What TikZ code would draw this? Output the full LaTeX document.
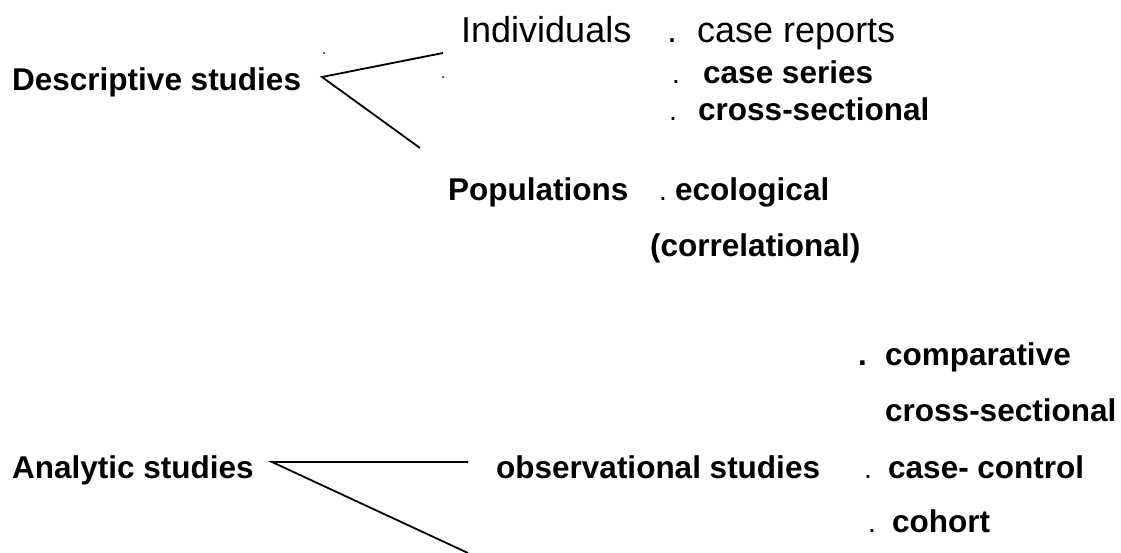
\documentclass[tikz,border=0pt]{standalone}
\usepackage{fontspec}
\setmainfont{Liberation Sans}
\usepackage{tikz}

\begin{document}
\begin{tikzpicture}[x=1pt,y=-1pt,
  bf/.style={anchor=base west,inner sep=0pt,font=\bfseries\fontsize{31.5}{38}\selectfont},
  rm/.style={anchor=base west,inner sep=0pt,font=\fontsize{36}{42}\selectfont},
  pt/.style={anchor=base west,inner sep=0pt,font=\fontsize{28}{34}\selectfont}]
\useasboundingbox (0,0) rectangle (1121,553);
% descriptive branch
\node[bf] (desc) at (12,91) {Descriptive studies};
\node[rm] (indiv) at (461,43) {Individuals};
\node[rm] (dta) at (667,43) {.};
\node[rm] (crep) at (697,43) {case reports};
\node[pt] (dtb) at (672,84) {.};
\node[bf] (cser) at (703,84) {case series};
\node[pt] (dtc) at (669,121) {.};
\node[bf] (csec) at (698,121) {cross-sectional};
\node[bf] (popu) at (448,201) {Populations};
\node[pt] (dtd) at (659,201) {.};
\node[bf] (ecol) at (675,201) {ecological};
\node[bf] (corr) at (650,257) {(correlational)};
\coordinate (dv) at (322,77);
\coordinate (iv) at (443,53);
\coordinate (pv) at (420,148);
\draw[line width=1.8pt] (iv)--(dv)--(pv);
\fill (324,53) circle (1pt);
\fill (443,77) circle (1pt);
% analytic branch
\node[bf] (anal) at (12,478) {Analytic studies};
\node[bf] (obse) at (496,478) {observational studies};
\node[bf] (dte) at (858,365) {.};
\node[bf] (comp) at (885,365) {comparative};
\node[bf] (csecb) at (885,421) {cross-sectional};
\node[pt] (dtf) at (864,478) {.};
\node[bf] (ccon) at (888,478) {case- control};
\node[pt] (dtg) at (868,532) {.};
\node[bf] (coho) at (892,532) {cohort};
\coordinate (av) at (272,462);
\coordinate (ov) at (468,462);
\coordinate (lv) at (468,553);
\draw[line width=1.8pt] (ov)--(av)--(lv);
\end{tikzpicture}
\end{document}
